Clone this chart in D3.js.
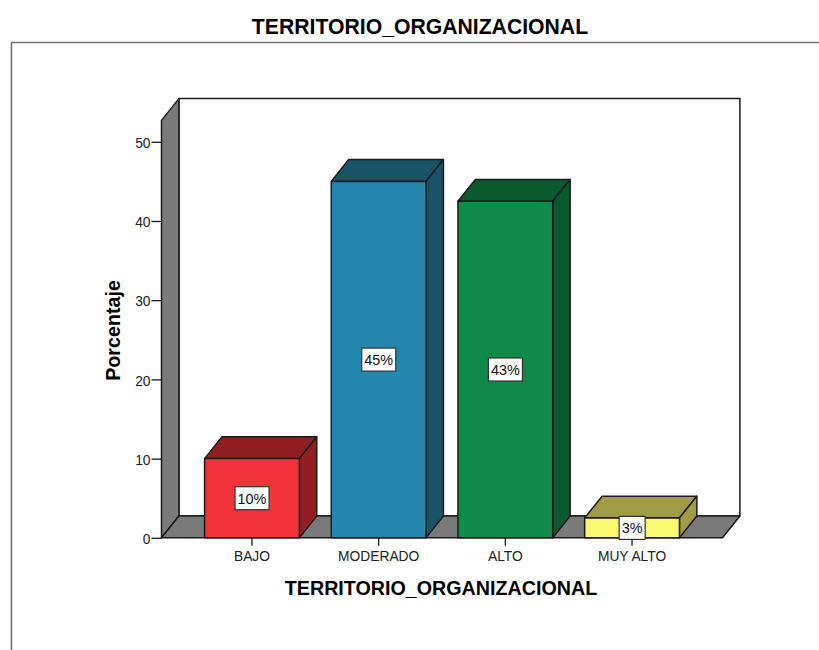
<!DOCTYPE html>
<html>
<head>
<meta charset="utf-8">
<script src="https://cdn.jsdelivr.net/npm/d3@7/dist/d3.min.js"></script>
<style>
html,body{margin:0;padding:0;background:#fff;overflow:hidden}
svg{display:block}
text{font-family:"Liberation Sans",Arial,sans-serif}
</style>
</head>
<body>
<svg id="c" width="819" height="650"></svg>
<script>
const categories = ["BAJO","MODERADO","ALTO","MUY ALTO"];
const values = [10, 45, 42.5, 2.5];
const labels = ["10%","45%","43%","3%"];
const frontColors = ["#f3333b","#2488ae","#0f8a48","#fbf771"];
const sideColors = ["#8f1f23","#185367","#09592e","#9f9b47"];
const yTicks = [0,10,20,30,40,50];
const chartTitle = "TERRITORIO_ORGANIZACIONAL";
const yTitle = "Porcentaje";

const svg = d3.select("#c");
const ink = "#1a1a1a", wall = "#7a7a7a";
const dx = 17.4, dy = 21.8;
const x = d3.scaleBand().domain(categories).range([161.5,722.5]).paddingInner(0.252).paddingOuter(0.34);
const y = d3.scaleLinear().domain([0,52.7]).range([537.8,120.4]);
const left = x.range()[0], right = x.range()[1], y0 = y(0), yTop = y(52.7);
const line = d3.line();

// outer frame
svg.append("path").attr("d",line([[11.5,650],[11.5,42.5],[819,42.5]]))
  .attr("fill","none").attr("stroke","#707070").attr("stroke-width",1.6);

// back wall, left wall, floor
const shape = (pts,fill)=>svg.append("path").attr("d",line(pts)+"Z").attr("fill",fill)
  .attr("stroke",ink).attr("stroke-width",1.5).attr("stroke-linejoin","round");
shape([[left+dx,yTop-dy],[right+dx,yTop-dy],[right+dx,y0-dy],[left+dx,y0-dy]],"#fff");
shape([[left,yTop],[left+dx,yTop-dy],[left+dx,y0-dy],[left,y0]],wall);
shape([[left,y0],[left+dx,y0-dy],[right+dx,y0-dy],[right,y0]],wall);

// bars
const bars = svg.append("g").selectAll("g").data(categories).join("g");
bars.each(function(c,i){
  const g = d3.select(this), x0 = x(c), x1 = x0+x.bandwidth(), yv = y(values[i]);
  const face=(pts,fill)=>g.append("path").attr("d",line(pts)+"Z").attr("fill",fill)
    .attr("stroke",ink).attr("stroke-width",1.5).attr("stroke-linejoin","round");
  face([[x0,yv],[x0+dx,yv-dy],[x1+dx,yv-dy],[x1,yv]],sideColors[i]);
  face([[x1,yv],[x1+dx,yv-dy],[x1+dx,y0-dy],[x1,y0]],sideColors[i]);
  face([[x0,yv],[x1,yv],[x1,y0],[x0,y0]],frontColors[i]);
});

// axes
const yAxis = d3.axisLeft(y).tickValues(yTicks).tickSize(10).tickPadding(1);
const gy = svg.append("g").attr("transform",`translate(${left},0)`).call(yAxis);
const xAxis = d3.axisBottom(x).tickSize(8).tickPadding(5);
const gx = svg.append("g").attr("transform",`translate(0,${y0})`).call(xAxis);
[gy,gx].forEach(g=>{
  g.select(".domain").remove();
  g.selectAll("line").attr("stroke",ink).attr("stroke-width",1.3);
  g.selectAll("text").attr("fill","#222").style("font-size","13.8px").style("font-family",'"Liberation Sans",Arial,sans-serif');
});
gy.selectAll("text").attr("dy","0.42em");

// data labels
categories.forEach((c,i)=>{
  const cx = x(c)+x.bandwidth()/2, cy = (y(values[i])+y0)/2;
  const g = svg.append("g");
  const t = g.append("text").attr("x",cx).attr("y",cy+0.5).attr("text-anchor","middle")
    .attr("dominant-baseline","central").attr("fill","#111").style("font-size","14.4px").text(labels[i]);
  const b = t.node().getBBox();
  g.insert("rect","text").attr("x",b.x-2.5).attr("y",cy-11.5).attr("width",b.width+5).attr("height",23)
    .attr("fill","#fff").attr("stroke","#333").attr("stroke-width",1.2);
});

// titles
svg.append("text").attr("x",420).attr("y",34).attr("text-anchor","middle")
  .attr("fill","#000").style("font-size","21.2px").style("font-weight","bold").text(chartTitle);
svg.append("text").attr("x",441).attr("y",595).attr("text-anchor","middle")
  .attr("fill","#000").style("font-size","19.7px").style("font-weight","bold").text(chartTitle);
svg.append("text").attr("transform","translate(119.5,330.5) rotate(-90)").attr("text-anchor","middle")
  .attr("fill","#000").style("font-size","19.7px").style("font-weight","bold").text(yTitle);
</script>
</body>
</html>
